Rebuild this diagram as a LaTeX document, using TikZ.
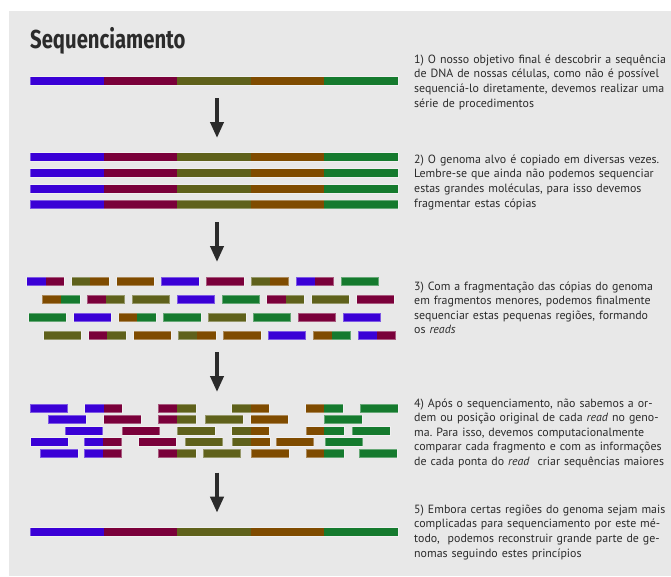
\documentclass[tikz,border=0pt]{standalone}
\usepackage{fontspec}
\setmainfont{PT Sans}
\newfontfamily\titlefont[FakeStretch=0.78]{Fira Sans}
\usetikzlibrary{arrows.meta}
\frenchspacing

\definecolor{panelgray}{HTML}{E8E8E8}
\definecolor{inkgray}{HTML}{2B2B2B}
\definecolor{cB}{HTML}{3A00D6}
\definecolor{cM}{HTML}{7A003A}
\definecolor{cV}{HTML}{5F611B}
\definecolor{cO}{HTML}{7F4B00}
\definecolor{cG}{HTML}{157A2E}

\tikzset{
	barrim/.style={draw=white, draw opacity=0.35, line width=0.7pt},
	downarrow/.style={draw=inkgray, line width=3.8pt, -{Triangle[width=13pt,length=16pt]}},
	note/.style={anchor=base west, align=left, text width=265pt, inner sep=0pt,
		text=inkgray, font=\fontsize{11.9}{14.6}\selectfont}
}

% one read: from #1 to #1+37.6, colour #4 up to #3, colour #5 after
\newcommand{\piece}[5]{%
	\fill[#4] (#1,#2-4.2) rectangle (#3,#2+4.2);
	\fill[#5] (#3,#2-4.2) rectangle (#1+37.6,#2+4.2);
	\draw[barrim] (#1,#2-4.2) rectangle (#1+37.6,#2+4.2);}
% the whole genome at height #1
\newcommand{\genome}[1]{%
	\foreach \c [count=\i from 0] in {cB,cM,cV,cO,cG}
		\fill[\c] ({30+73.6*\i},#1-4.2) rectangle ++(73.6,8.4);
	\draw[barrim] (30,#1-4.2) rectangle (398,#1+4.2);}

\begin{document}
\begin{tikzpicture}
		[x=1pt,y=-1pt]
		
		\useasboundingbox (0,0) rectangle (671,576);
		\fill[panelgray] (9,11) rectangle (671,576);
		\node[anchor=base west, inner sep=0pt, text=inkgray,
			font=\titlefont\bfseries\fontsize{26}{26}\selectfont]
			(title) at (30,48.3) {Sequenciamento};
		
		% genomes
		\genome{81}
		\foreach \y in {157,173,189,204.5}
			{\genome{\y}}
		\genome{532}
		
		% fragments
		\foreach \ca/\cb [count=\i from 0] in {cB/cM,cV/cO,cO/cO,cB/cB,cM/cM,cV/cO,cB/cM,cG/cG}
			{\piece{26.7+44.9*\i}{281.5}{26.7+44.9*\i+18.8}{\ca}{\cb}}
		\foreach \ca/\cb [count=\i from 0] in {cO/cG,cM/cV,cV/cV,cB/cB,cG/cG,cM/cV,cV/cV,cM/cM}
			{\piece{42.3+44.9*\i}{299.5}{42.3+44.9*\i+18.8}{\ca}{\cb}}
		\foreach \ca/\cb [count=\i from 0] in {cG/cG,cB/cB,cO/cG,cG/cG,cV/cV,cG/cG,cM/cM,cB/cB}
			{\piece{28.7+44.9*\i}{317.5}{28.7+44.9*\i+18.8}{\ca}{\cb}}
		\foreach \ca/\cb [count=\i from 0] in {cV/cV,cM/cV,cO/cO,cV/cO,cO/cO,cB/cB,cO/cG,cB/cM}
			{\piece{43.7+44.9*\i}{335.5}{43.7+44.9*\i+18.8}{\ca}{\cb}}
		
		% reads put in order
		\foreach \x/\s/\ca/\cb in {30/50/cB/cB,84.7/104/cB/cM,158.3/177/cM/cV,231.7/251/cV/cO,305.7/324/cO/cG,360.3/380/cG/cG}
			{\piece{\x}{408.3}{\s}{\ca}{\cb}}
		\foreach \x/\s/\ca/\cb in {48.3/60/cB/cB,103.7/120/cM/cM,158.3/177/cM/cV,205.3/220/cV/cV,250.7/270/cO/cO,324.3/340/cG/cG}
			{\piece{\x}{419.3}{\s}{\ca}{\cb}}
		\foreach \x/\s/\ca/\cb in {65/80/cB/cB,122/140/cM/cM,177.3/190/cV/cV,231.7/251/cV/cO,306.3/324/cO/cG,352.3/370/cG/cG}
			{\piece{\x}{430.7}{\s}{\ca}{\cb}}
		\foreach \x/\s/\ca/\cb in {30.7/50/cB/cB,84/102.5/cB/cM,138.7/150/cM/cM,185/200/cV/cV,232.3/251/cV/cO,276/290/cO/cO,325/340/cG/cG}
			{\piece{\x}{442}{\s}{\ca}{\cb}}
		\foreach \x/\s/\ca/\cb in {40.3/60/cB/cB,84/103/cB/cM,158.3/177/cM/cV,203/220/cV/cV,251.3/270/cO/cO,306.3/324/cO/cG,359.3/380/cG/cG}
			{\piece{\x}{453.3}{\s}{\ca}{\cb}}
		
		% arrows
		\foreach \ya/\yb [count=\k] in {98/138,222/262,352/392,472.7/512.7}{
			\coordinate (top\k) at (217,\ya);
			\coordinate (tip\k) at (217,\yb);
			\draw[downarrow] (top\k) -- (tip\k);
		}
		
		% texts
		\node[note] (step1) at (414,63.3)
			{1) O nosso objetivo final é descobrir a sequência\\
			de DNA de nossas células, como não é possível\\
			sequenciá-lo diretamente, devemos realizar uma\\
			série de procedimentos};
		\node[note] (step2) at (414,163.3)
			{2) O genoma alvo é copiado em diversas vezes.\\
			Lembre-se que ainda não podemos sequenciar\\
			estas grandes moléculas, para isso devemos\\
			fragmentar estas cópias};
		\node[note] (step3) at (414,290)
			{3) Com a fragmentação das cópias do genoma\\
			em fragmentos menores, podemos finalmente\\
			sequenciar estas pequenas regiões, formando\\
			os \emph{reads}};
		\node[note] (step4) at (414,407)
			{4) Após o sequenciamento, não sabemos a or-\\
			dem ou posição original de cada \emph{read} no geno-\\
			ma. Para isso, devemos computacionalmente\\
			comparar cada fragmento e com as informações\\
			de cada ponta do \emph{read} \ criar sequências maiores};
		\node[note] (step5) at (414,513.3)
			{5) Embora certas regiões do genoma sejam mais\\
			complicadas para sequenciamento por este mé-\\
			todo, \ podemos reconstruir grande parte de ge-\\
			nomas seguindo estes princípios};
	
	\end{tikzpicture}
\end{document}
